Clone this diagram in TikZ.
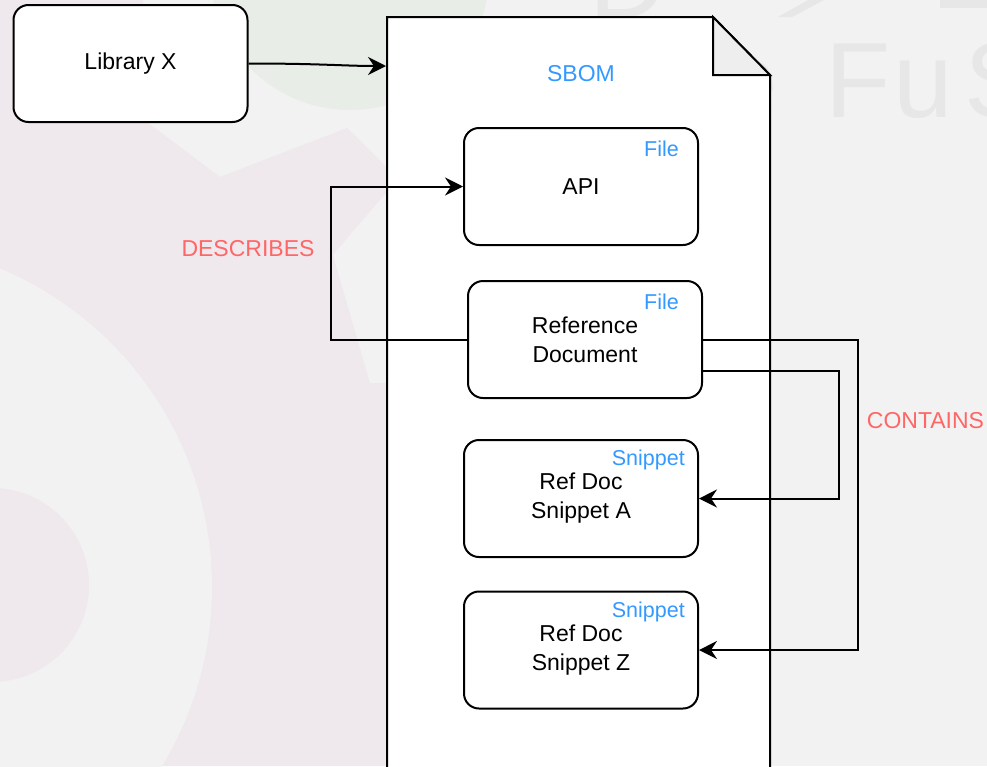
\documentclass[tikz,border=0pt]{standalone}
\usepackage{fontspec}
\setmainfont{Liberation Sans}
\usetikzlibrary{arrows.meta,calc}

\definecolor{pagebg}{HTML}{F2F2F2}
\definecolor{wmpink}{HTML}{EFE8EC}
\definecolor{wmgreen}{HTML}{E8EDE8}
\definecolor{wmtext}{HTML}{E7E7E7}
\definecolor{foldgrey}{HTML}{EEEEEE}
\definecolor{sbomblue}{HTML}{3399FF}
\definecolor{relred}{HTML}{FF6666}

\newcommand\mainsz{\fontsize{23}{29}\selectfont}
\newcommand\typesz{\fontsize{21.5}{26}\selectfont}
\newcommand\wmsz{\fontsize{107}{110}\selectfont}

\tikzset{
  box/.style={draw=black, line width=2pt, rounded corners=15pt, fill=white,
    minimum width=234pt, minimum height=117pt, align=center, font=\mainsz,
    inner sep=0pt},
  conn/.style={draw=black, line width=2pt,
    -{Stealth[length=18pt,width=18pt,inset=6pt]}},
  typelbl/.style={text=sbomblue, font=\typesz, inner sep=0pt, anchor=base east},
  rellbl/.style={text=relred, font=\mainsz, inner sep=0pt},
  wmletter/.style={text=wmtext, font=\wmsz, inner sep=0pt, anchor=base west},
}

\begin{document}
\begin{tikzpicture}[x=1pt,y=-1pt]
\useasboundingbox (0,0) rectangle (987,766);
\begin{scope}
\clip (0,0) rectangle (987,766);
% page background and faint watermark
\fill[pagebg] (0,0) rectangle (987,766);
\fill[wmgreen] (350,-30) circle[radius=140];
\fill[wmpink] (0,0) -- (143,0) -- (147,122) -- (220,177) -- (347,128)
  -- (387,168) -- (387,766) -- (0,766) -- cycle;
\fill[pagebg] (387,192) -- (333,255) -- (370,383) -- (387,383) -- cycle;
\fill[pagebg] (-133,587) circle[radius=345];
\fill[wmpink] (-8,585) circle[radius=97];
\node[wmletter] (wmD) at (589,17) {D};
\fill[wmtext] (778,17) -- (792,17) -- (824,0) -- (808,0) -- cycle;
\fill[wmtext] (940,0) rectangle (987,8);
\node[wmletter] (wme) at (718,117) {e};
\node[wmletter] (wmF) at (825,117) {F};
\node[wmletter] (wmu) at (893,117) {u};
\node[wmletter] (wmS) at (964,117) {S};

% the SBOM document sheet with its folded corner
\draw[line width=2pt, fill=white] (387,17) -- (713,17) -- (770,75)
  -- (770,800) -- (387,800) -- cycle;
\draw[line width=2pt, fill=foldgrey, line join=miter]
  (713,17) -- (713,75) -- (770,75) -- cycle;
\coordinate (docin) at (386,66);
\node[font=\mainsz, text=sbomblue] (sbom) at (581,74) {SBOM};

% elements
\node[box] (libx) at (130.5,63.5) {Library X};
\node[box] (api) at (581,186.5) {API};
\node[box] (refdoc) at (585,339.5) {Reference\\Document};
\node[box] (snipa) at (581,498.5) {Ref Doc\\Snippet A};
\node[box] (snipz) at (581,650) {Ref Doc\\Snippet Z};

\node[typelbl] (apitype) at (679,156) {File};
\node[typelbl] (reftype) at (679,309) {File};
\node[typelbl] (snipatype) at (685,465) {Snippet};
\node[typelbl] (snipztype) at (685,617) {Snippet};

% relationships
\coordinate (descx) at (331,0);
\draw[conn] (libx.east) .. controls (320,63.5) and (345,66) .. (docin);
\draw[conn] (refdoc.west) -- (refdoc.west -| descx) |- (api.west);
\draw[conn] ([yshift=-31pt]refdoc.east) -- ++(136,0) |- (snipa.east);
\draw[conn] (refdoc.east) -- ++(155,0) |- (snipz.east);

\node[rellbl] (describes) at (248,249) {DESCRIBES};
\node[rellbl] (contains) at (925.5,421) {CONTAINS};
\end{scope}
\end{tikzpicture}
\end{document}
